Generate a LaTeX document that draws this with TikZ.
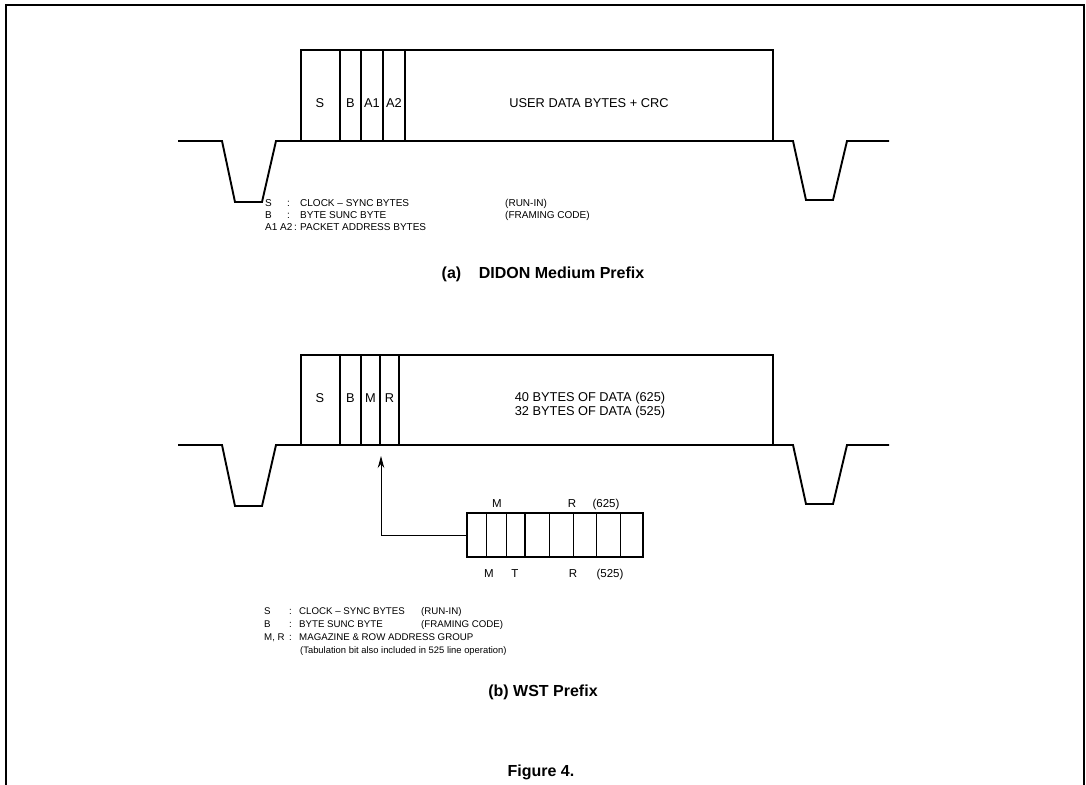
\documentclass[tikz,border=0pt]{standalone}
\usepackage{fontspec}
\setmainfont{Liberation Sans}
\usetikzlibrary{arrows.meta}
\begin{document}
\begin{tikzpicture}[x=1pt,y=-1pt,
  wave/.style={line width=1.9pt, line join=miter},
  cellline/.style={line width=1.5pt},
  thinline/.style={line width=0.9pt},
  lbl/.style={inner sep=0pt, anchor=base, font=\fontsize{12.8}{14}\selectfont},
  leg/.style={inner sep=0pt, anchor=base west, font=\fontsize{10}{12}\selectfont},
  legb/.style={inner sep=0pt, anchor=base west, font=\fontsize{9.7}{12}\selectfont},
  bitlbl/.style={inner sep=0pt, anchor=base, font=\fontsize{11.5}{13}\selectfont},
  ttl/.style={inner sep=0pt, anchor=base, font=\bfseries\fontsize{16}{19}\selectfont},
]
\useasboundingbox (0,0) rectangle (1086,784);
% outer frame
\draw[line width=2pt] (6,790) -- (6,5) -- (1084,5) -- (1084,790);

% ---------------- (a) ----------------
\draw[wave] (178,141) -- (222,141) -- (235,202) -- (262,202) -- (276,141)
  -- (793,141) -- (806,200) -- (833,200) -- (847,141) -- (889,141);
\draw[cellline] (301,141) -- (301,50) -- (773,50) -- (773,141);
\foreach \x in {340,361,383,405} \draw[cellline] (\x,50) -- (\x,141);
\node[lbl] (aS) at (320,107.5) {S};
\node[lbl] (aB) at (350.5,107.5) {B};
\node[lbl] (aA1) at (372,107.5) {A1};
\node[lbl] (aA2) at (394,107.5) {A2};
\node[lbl] (aUser) at (589,107.5) {USER DATA BYTES + CRC};

\node[leg] (al1a) at (265,206) {S};
\node[leg] (al1b) at (287,206) {:};
\node[leg] (al1c) at (300,206) {CLOCK -- SYNC BYTES};
\node[leg] (al1d) at (505,206) {(RUN-IN)};
\node[leg] (al2a) at (265,218) {B};
\node[leg] (al2b) at (287,218) {:};
\node[leg] (al2c) at (300,218) {BYTE SUNC BYTE};
\node[leg] (al2d) at (505,218) {(FRAMING CODE)};
\node[leg] (al3a) at (265,230) {A1 A2\,:};
\node[leg] (al3c) at (300,230) {PACKET ADDRESS BYTES};

\node[ttl] (atitle) at (543,278) {(a)\hspace{1.1em}DIDON Medium Prefix};

% ---------------- (b) ----------------
\draw[wave] (178,445) -- (222,445) -- (235,506) -- (262,506) -- (276,445)
  -- (793,445) -- (806,504) -- (833,504) -- (847,445) -- (889,445);
\draw[cellline] (301,445) -- (301,355) -- (773,355) -- (773,445);
\foreach \x in {340,361,380,399} \draw[cellline] (\x,355) -- (\x,445);
\node[lbl] (bS) at (320,402.5) {S};
\node[lbl] (bB) at (350.5,402.5) {B};
\node[lbl] (bM) at (370.5,402.5) {M};
\node[lbl] (bR) at (389.5,402.5) {R};
\node[lbl] (bD1) at (590,401.5) {40 BYTES OF DATA (625)};
\node[lbl] (bD2) at (590,415.5) {32 BYTES OF DATA (525)};

% bit box
\node[draw, line width=1.9pt, minimum width=176pt, minimum height=44pt, inner sep=0pt]
  (mbox) at (555,535) {};
\foreach \x in {486,506,549,573,596,620} \draw[thinline] (\x,513) -- (\x,557);
\draw[cellline] (525,513) -- (525,557);
\coordinate (tip) at (381,456);
\draw[thinline, -{Stealth[length=12pt,width=6.5pt]}] (mbox.west) -| (tip);

\node[bitlbl] (tM) at (497,507) {M};
\node[bitlbl] (tR) at (572,507) {R};
\node[bitlbl] (t625) at (606,507) {(625)};
\node[bitlbl] (uM) at (489,577) {M};
\node[bitlbl] (uT) at (515,577) {T};
\node[bitlbl] (uR) at (573,577) {R};
\node[bitlbl] (u525) at (610,577) {(525)};

\node[legb] (bl1a) at (264,614.5) {S};
\node[legb] (bl1b) at (289,614.5) {:};
\node[legb] (bl1c) at (299,614.5) {CLOCK -- SYNC BYTES};
\node[legb] (bl1d) at (421,614.5) {(RUN-IN)};
\node[legb] (bl2a) at (264,627.5) {B};
\node[legb] (bl2b) at (289,627.5) {:};
\node[legb] (bl2c) at (299,627.5) {BYTE SUNC BYTE};
\node[legb] (bl2d) at (421,627.5) {(FRAMING CODE)};
\node[legb] (bl3a) at (264,640.5) {M, R};
\node[legb] (bl3b) at (289,640.5) {:};
\node[legb] (bl3c) at (299,640.5) {MAGAZINE \& ROW ADDRESS GROUP};
\node[legb, font=\fontsize{9.4}{11}\selectfont] (bl4c) at (300,653.5) {(Tabulation bit also included in 525 line operation)};

\node[ttl] (btitle) at (543,696) {(b) WST Prefix};
\node[ttl] (fig) at (541,776) {Figure 4.};
\end{tikzpicture}
\end{document}
